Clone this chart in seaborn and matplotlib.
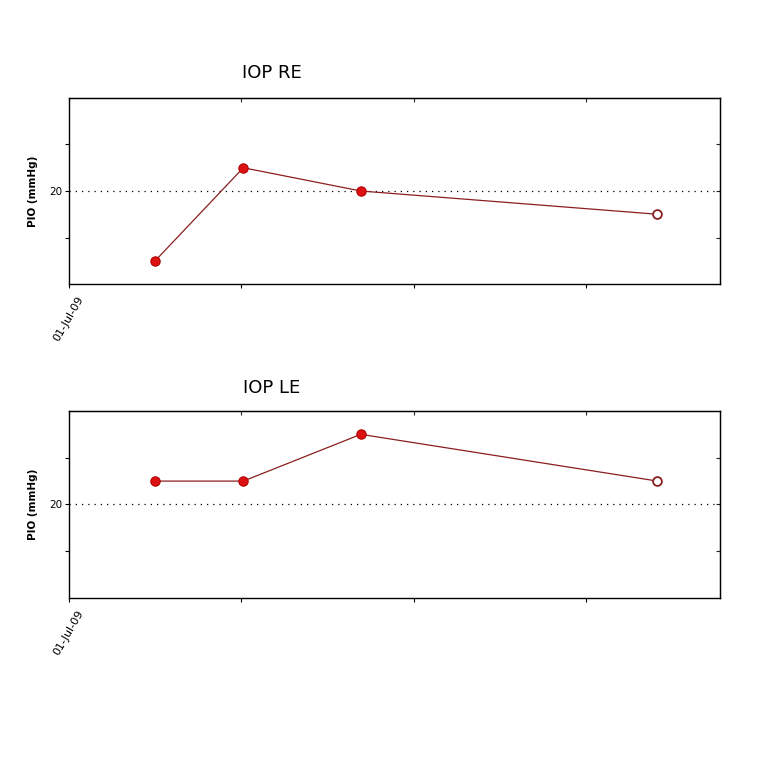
import pandas as pd
import seaborn as sns
import matplotlib.pyplot as plt
import matplotlib.dates as mdates
import matplotlib.transforms as mtransforms

sns.set_style("white")
plt.rcParams['font.family'] = ['DejaVu Sans']

# visit dates and IOP readings
visit_dates = ['2009-09-30', '2010-01-01', '2010-05-05', '2011-03-14']
iop_re = [14, 22, 20, 18]
iop_le = [22, 22, 26, 22]
# last reading is drawn as a hollow marker
filled = [True, True, True, False]

tick_dates = ['2009-07-01', '2009-12-30', '2010-06-30', '2010-12-29']
tick_labels = ['01-Jul-09', '', '', '']
x_start, x_end = '2009-07-01', '2011-05-19'

line_col = '#8b1e1e'
fill_col = '#dd1111'

fig = plt.figure(figsize=(7.68, 7.68), dpi=100)
panels = [
    ('IOP RE', iop_re, [0.0898, 0.6302, 0.8477, 0.2422], 0.905),
    ('IOP LE', iop_le, [0.0898, 0.2214, 0.8477, 0.2435], 0.495),
]

for title, vals, pos, ty in panels:
    df = pd.DataFrame({'date': pd.to_datetime(visit_dates), 'iop': vals, 'filled': filled})
    ax = fig.add_axes(pos)
    sns.lineplot(data=df, x='date', y='iop', color=line_col, linewidth=0.9, ax=ax)
    sns.scatterplot(data=df[df['filled']], x='date', y='iop', color=fill_col,
                    edgecolor='#b00000', s=45, linewidth=0.8, zorder=3, ax=ax)
    sns.scatterplot(data=df[~df['filled']], x='date', y='iop', color='white',
                    edgecolor=line_col, s=40, linewidth=1.3, zorder=3, ax=ax)

    ax.set_ylim(12, 28)
    ax.set_xlim(pd.to_datetime(x_start), pd.to_datetime(x_end))
    ax.axhline(20, color='black', linestyle=(0, (1, 4)), linewidth=0.9, zorder=1)

    ax.set_yticks([16, 20, 24])
    ax.set_yticklabels(['', '20', ''], fontsize=7.5)
    ax.set_xticks(pd.to_datetime(tick_dates))
    ax.set_xticklabels(tick_labels, rotation=60, ha='right', rotation_mode='anchor', fontsize=8)
    ax.tick_params(direction='out', length=3, width=0.8, pad=2, colors='black',
                   left=True, bottom=True)
    shift = mtransforms.ScaledTranslation(0.08, -0.04, fig.dpi_scale_trans)
    for lbl in ax.get_xticklabels():
        lbl.set_transform(lbl.get_transform() + shift)

    # inward ticks on top and right
    top = ax.secondary_xaxis('top')
    top.set_xticks(mdates.date2num(pd.to_datetime(tick_dates)))
    top.tick_params(direction='in', length=3, width=0.8, labeltop=False, top=True)
    right = ax.secondary_yaxis('right')
    right.set_yticks([16, 20, 24])
    right.tick_params(direction='in', length=3, width=0.8, labelright=False, right=True)

    for sp in ax.spines.values():
        sp.set_color('black')
        sp.set_linewidth(1.0)

    ax.set_xlabel('')
    ax.set_ylabel('PIO (mmHg)', fontsize=7.5, fontweight='bold', labelpad=8, color='black')
    fig.text(0.354, ty, title, fontsize=13, ha='center', va='center', color='black')

fig.savefig('out.png', dpi=100)
